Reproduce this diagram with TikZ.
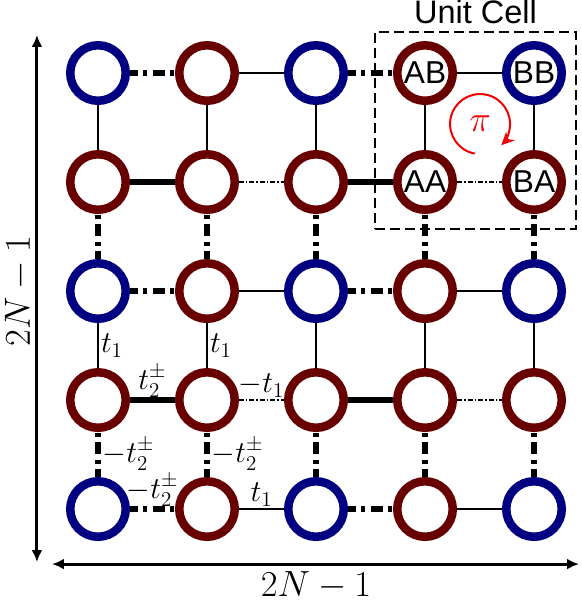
\documentclass[tikz,border=0pt]{standalone}
\usepackage{amsmath,amssymb}
\usepackage{fontspec}
\setsansfont{Liberation Sans}
\usepackage{tikz}
\usetikzlibrary{arrows.meta,positioning,calc}
\usepackage{xcolor}
\definecolor{siteblue}{RGB}{0,0,128}
\definecolor{sitered}{RGB}{104,0,0}
\definecolor{fluxred}{RGB}{240,0,0}
\tikzset{
  siteb/.style={circle,draw=siteblue,line width=0.17cm,minimum size=1.11cm,inner sep=0pt,
    fill=white,font=\sffamily\fontsize{18}{20}\selectfont},
  siter/.style={siteb,draw=sitered},
  hopthin/.style={line width=0.05cm},
  hopthick/.style={line width=0.12cm},
  hopdd/.style={line width=0.12cm,dash pattern=on 0.24cm off 0.10cm on 0.08cm off 0.12cm,dash phase=0.08cm},
  hopdot/.style={line width=0.048cm,dash pattern=on 0.10cm off 0.04cm on 0.03cm off 0.04cm},
  hoplabel/.style={font=\fontsize{17.28}{20}\selectfont,inner sep=1pt},
  axis/.style={{Latex[length=2.4mm,width=2.2mm]}-{Latex[length=2.4mm,width=2.2mm]},line width=0.06cm},
  cellbox/.style={draw,line width=0.04cm,dash pattern=on 0.2cm off 0.1cm,minimum width=4.02cm,
    minimum height=3.94cm,inner sep=0pt},
  celltext/.style={font=\sffamily\fontsize{18.5}{20}\selectfont,inner sep=2pt},
  fluxarrow/.style={-{Stealth[length=2.6mm,width=2.4mm]},draw=fluxred,line width=0.04cm}
}
\begin{document}
\begin{tikzpicture}[x=2.18cm,y=2.18cm]
  \useasboundingbox (-0.899,-0.862) rectangle (4.440,4.670);

  % sites, top row first
  \node[siteb] (s11) at (0,4) {};
  \node[siter] (s12) at (1,4) {};
  \node[siteb] (s13) at (2,4) {};
  \node[siter] (s14) at (3,4) {AB};
  \node[siteb] (s15) at (4,4) {BB};
  \node[siter] (s21) at (0,3) {};
  \node[siter] (s22) at (1,3) {};
  \node[siter] (s23) at (2,3) {};
  \node[siter] (s24) at (3,3) {AA};
  \node[siter] (s25) at (4,3) {BA};
  \node[siteb] (s31) at (0,2) {};
  \node[siter] (s32) at (1,2) {};
  \node[siteb] (s33) at (2,2) {};
  \node[siter] (s34) at (3,2) {};
  \node[siteb] (s35) at (4,2) {};
  \node[siter] (s41) at (0,1) {};
  \node[siter] (s42) at (1,1) {};
  \node[siter] (s43) at (2,1) {};
  \node[siter] (s44) at (3,1) {};
  \node[siter] (s45) at (4,1) {};
  \node[siteb] (s51) at (0,0) {};
  \node[siter] (s52) at (1,0) {};
  \node[siteb] (s53) at (2,0) {};
  \node[siter] (s54) at (3,0) {};
  \node[siteb] (s55) at (4,0) {};

  % horizontal hoppings
  \draw[hopdd] (s11) -- (s12) (s13) -- (s14) (s31) -- (s32) (s33) -- (s34) (s51) -- (s52) (s53) -- (s54);
  \draw[hopthin] (s12) -- (s13) (s14) -- (s15) (s32) -- (s33) (s34) -- (s35) (s54) -- (s55);
  \draw[hopthick] (s21) -- (s22) (s23) -- (s24) (s41) -- (s42) (s43) -- (s44);
  \draw[hopdot] (s22) -- (s23) (s24) -- (s25) (s44) -- (s45);
  \draw[hopdot] (s42) -- node[hoplabel,above]{$-t_1$} (s43);
  \draw[hopthin] (s52) -- node[hoplabel,above]{$t_1$} (s53);

  % vertical hoppings (dashed ones drawn upwards)
  \draw[hopthin] (s11) -- (s21) (s12) -- (s22) (s13) -- (s23) (s14) -- (s24) (s15) -- (s25);
  \draw[hopdd] (s31) -- (s21) (s32) -- (s22) (s33) -- (s23) (s34) -- (s24) (s35) -- (s25);
  \draw[hopthin] (s33) -- (s43) (s34) -- (s44) (s35) -- (s45);
  \draw[hopdd] (s53) -- (s43) (s54) -- (s44) (s55) -- (s45);
  \draw[hopthin] (s31) -- node[hoplabel,right]{$t_1$} (s41);
  \draw[hopthin] (s32) -- node[hoplabel,right]{$t_1$} (s42);
  \draw[hopdd] (s51) -- node[hoplabel,right]{$-t_2^{\pm}$} (s41);
  \draw[hopdd] (s52) -- node[hoplabel,right]{$-t_2^{\pm}$} (s42);

  % labels on the thick bonds
  \node[hoplabel,above] (lt2) at ($(s41)!0.5!(s42)$) {$t_2^{\pm}$};
  \node[hoplabel,above] (lmt2) at ($(s51)!0.5!(s52)$) {$-t_2^{\pm}$};

  % unit cell and flux
  \node[cellbox] (cell) at (3.463,3.472) {};
  \node[celltext,above=2pt of cell.north] (celllabel) {Unit Cell};
  \node[text=fluxred,font=\fontsize{20.74}{22}\selectfont] (flux) at (3.505,3.532) {$\pi$};
  \draw[fluxarrow] (flux.center) ++(-100:0.6cm) arc[start angle=-100,end angle=-405,radius=0.6cm];

  % system size
  \coordinate (ytop) at (-0.560,4.349);
  \coordinate (ybot) at (-0.560,-0.486);
  \coordinate (xleft) at (-0.422,-0.505);
  \coordinate (xright) at (4.413,-0.505);
  \draw[axis] (ytop) -- (ybot);
  \draw[axis] (xleft) -- (xright);
  \node[rotate=90,font=\fontsize{20.74}{22}\selectfont] (ylabel) at (-0.725,2) {$2N-1$};
  \node[font=\fontsize{20.74}{22}\selectfont] (xlabel) at (2,-0.70) {$2N-1$};
\end{tikzpicture}
\end{document}
